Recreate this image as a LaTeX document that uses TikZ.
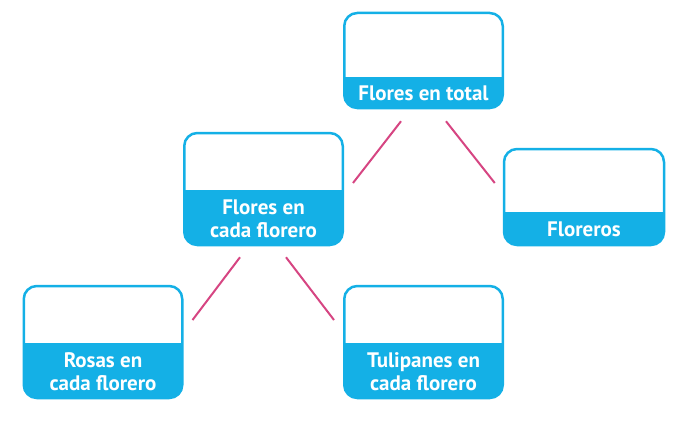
\documentclass[tikz,border=0pt]{standalone}
\usepackage{fontspec}
\setsansfont{PT Sans}
\definecolor{azul}{RGB}{20,176,230}
\definecolor{rosa}{RGB}{214,69,130}
\tikzset{
  caja/.style={draw=azul, line width=2.5pt, rounded corners=13pt, inner sep=0pt,
    minimum width=158.5pt, minimum height=#1},
  franja/.style={path picture={\fill[azul, sharp corners] (path picture bounding box.south west)
    rectangle ([yshift=#1]path picture bounding box.south east);}},
  rotulo/.style={text=white, font=\sffamily\bfseries\fontsize{21}{23}\selectfont,
    align=center, inner sep=0pt},
  linea/.style={draw=rosa, line width=2pt}
}
\begin{document}
\begin{tikzpicture}[x=1pt,y=-1pt]
\useasboundingbox (0,0) rectangle (700,444);

\node[caja=95pt, franja=31pt] (total) at (423.5,60.5) {};
\node[caja=112pt, franja=55pt] (cada) at (263.5,189) {};
\node[caja=96pt, franja=33pt, minimum width=160pt] (floreros) at (584,197) {};
\node[caja=112pt, franja=55pt] (rosas) at (103,342) {};
\node[caja=112pt, franja=55pt] (tulipanes) at (423.5,342) {};

\node[rotulo] (totalT) at (423.5,93) {Flores en total};
\node[rotulo] (cadaT) at (263.5,218.5) {Flores en\\cada florero};
\node[rotulo] (florerosT) at (584,229) {Floreros};
\node[rotulo] (rosasT) at (103,371.5) {Rosas en\\cada florero};
\node[rotulo] (tulipanesT) at (423.5,371.5) {Tulipanes en\\cada florero};

\draw[linea] ([xshift=-22.5pt,yshift=-12pt]total.south) -- ([xshift=9pt,yshift=6pt]cada.east);
\draw[linea] ([xshift=22.5pt,yshift=-12pt]total.south) -- ([xshift=-8pt,yshift=14pt]floreros.west);
\draw[linea] ([xshift=-23.5pt,yshift=-11pt]cada.south) -- ([xshift=9pt,yshift=22pt]rosas.east);
\draw[linea] ([xshift=22.5pt,yshift=-11pt]cada.south) -- ([xshift=-9pt,yshift=22pt]tulipanes.west);
\end{tikzpicture}
\end{document}
